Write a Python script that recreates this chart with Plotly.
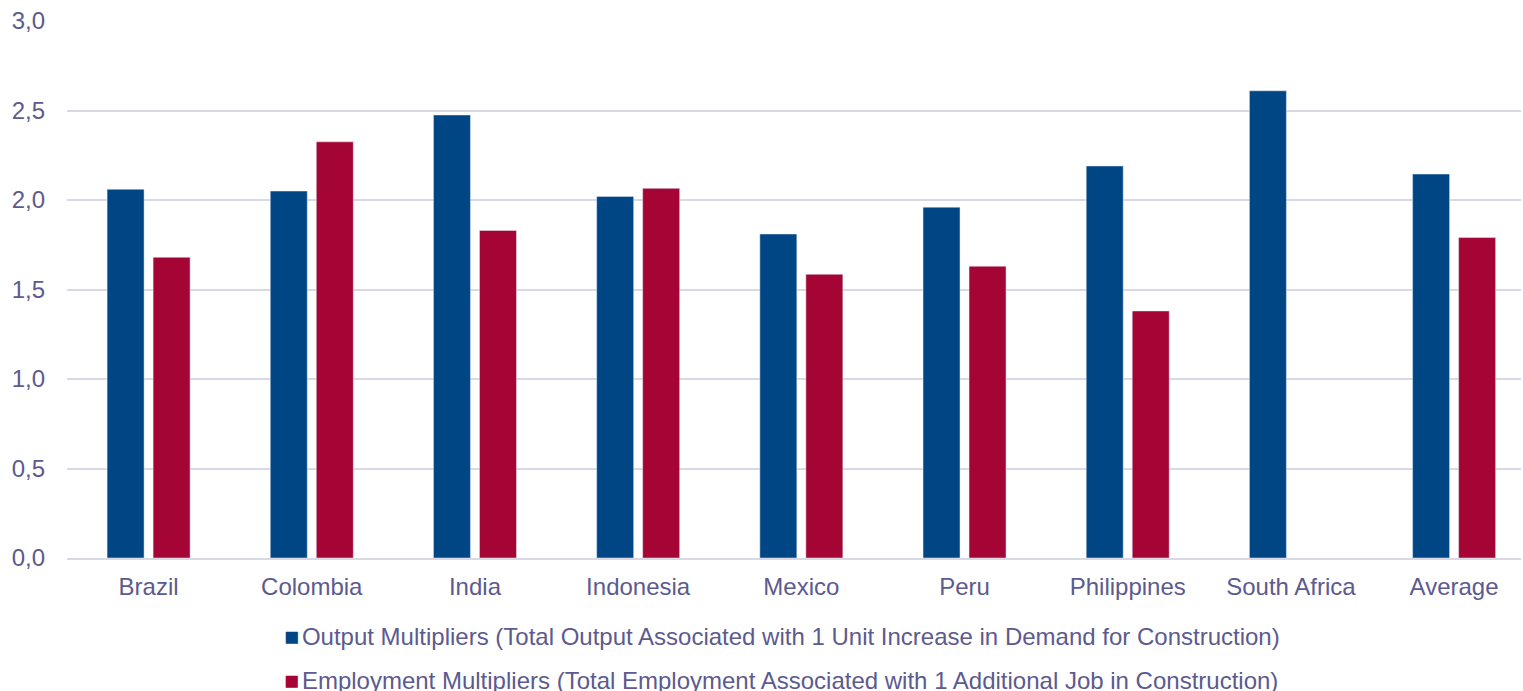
import plotly.graph_objects as go

categories = ["Brazil", "Colombia", "India", "Indonesia", "Mexico", "Peru", "Philippines", "South Africa", "Average"]
output_mult = [2.06, 2.05, 2.475, 2.02, 1.81, 1.96, 2.19, 2.61, 2.145]
employment_mult = [1.68, 2.325, 1.83, 2.065, 1.585, 1.63, 1.38, None, 1.79]

name_output = "Output Multipliers (Total Output Associated with 1 Unit Increase in Demand for Construction)"
name_emp = "Employment Multipliers (Total Employment Associated with 1 Additional Job in Construction)"

blue = "#004684"
red = "#A50534"
text_color = "#5C5A8F"
grid_color = "#D9D9E6"

fig = go.Figure()
fig.add_trace(go.Bar(x=categories, y=output_mult, name=name_output, marker_color=blue))
fig.add_trace(go.Bar(x=categories, y=employment_mult, name=name_emp, marker_color=red))

fig.update_layout(
    width=1523, height=691,
    margin=dict(l=67, r=2, t=21, b=133),
    paper_bgcolor="white", plot_bgcolor="white",
    font=dict(family="Liberation Sans, Arial, sans-serif", size=24, color=text_color),
    separators=", ",
    barmode="group", bargap=0.436, bargroupgap=0.196,
    showlegend=False,
    yaxis=dict(range=[0, 3], dtick=0.5, tickformat=".1f", showgrid=True, gridcolor=grid_color,
               gridwidth=2, zeroline=False, showline=False, ticks="", automargin=False,
               ticklabelstandoff=21, tickfont=dict(size=24, color=text_color)),
    xaxis=dict(range=[-0.5, 8.41], showline=True, linecolor=grid_color, linewidth=2, ticks="",
               automargin=False, ticklabelstandoff=6,
               tickfont=dict(size=24, color=text_color)),
)

legend_items = [(name_output, blue, -0.1453), (name_emp, red, -0.2272)]
for label, color, ypos in legend_items:
    fig.add_annotation(
        xref="paper", yref="paper", x=0.1476, y=ypos, xanchor="left", yanchor="middle",
        showarrow=False, align="left",
        text=(f'<span style="color:{color};font-size:25px">■</span>'
              f'<span style="font-size:10px"> </span>{label}'),
        font=dict(size=24, color=text_color),
    )

fig.write_html("out.html")
